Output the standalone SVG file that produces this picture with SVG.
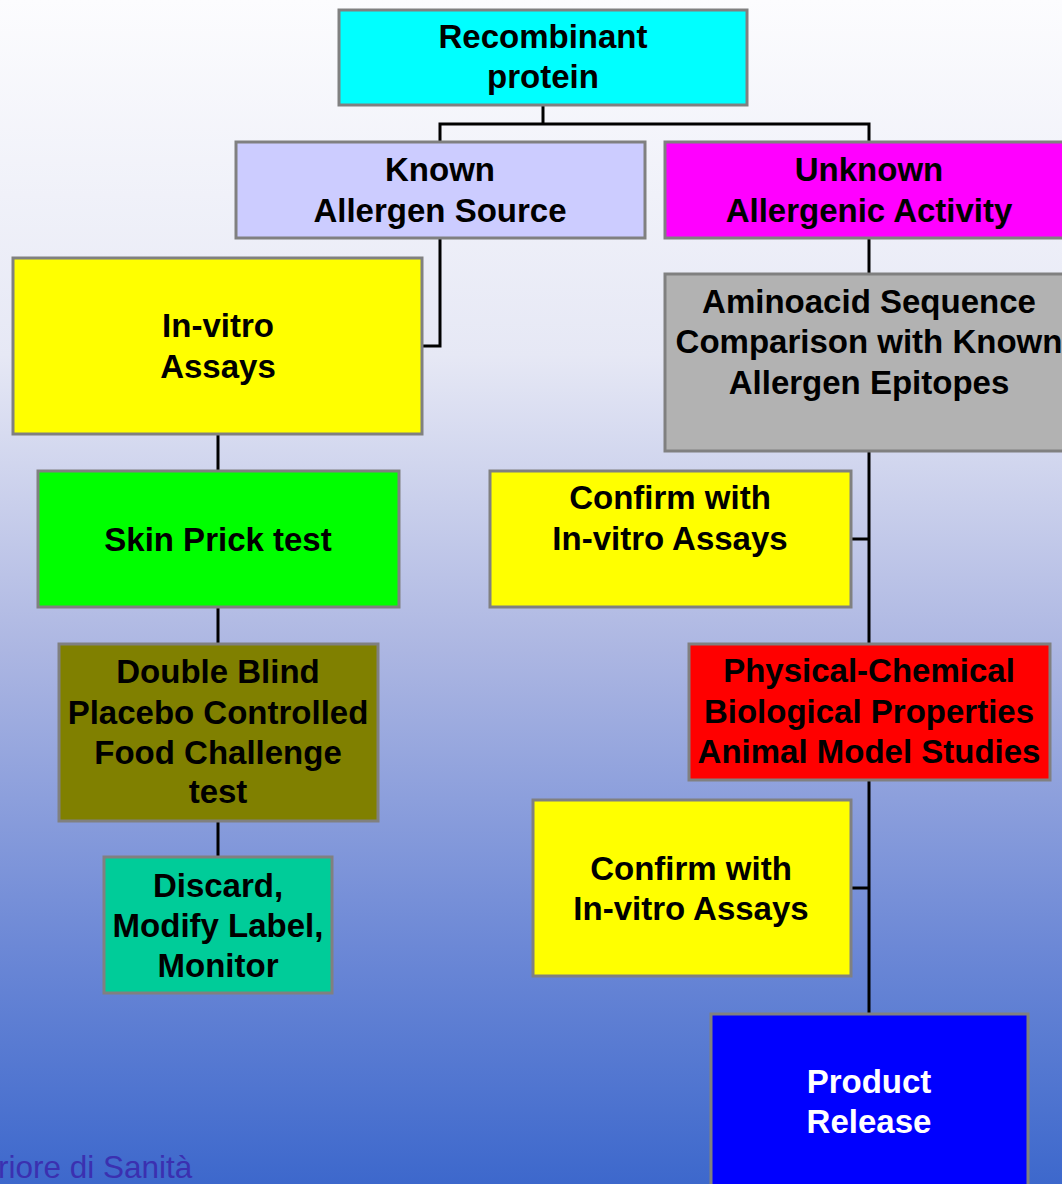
<svg xmlns="http://www.w3.org/2000/svg" width="1062" height="1184" viewBox="0 0 1062 1184">
<defs>
<linearGradient id="bg" x1="0" y1="0" x2="0" y2="1">
<stop offset="0" stop-color="#fcfcfe"/>
<stop offset="0.3" stop-color="#e6e8f5"/>
<stop offset="0.55" stop-color="#acb6e2"/>
<stop offset="0.8" stop-color="#6c88d6"/>
<stop offset="1" stop-color="#3d68cc"/>
</linearGradient>
</defs>
<style>
.box{stroke:#808080;stroke-width:3}
.t{font-family:"Liberation Sans",Arial,sans-serif;font-weight:bold;font-size:33px;fill:#000;text-anchor:middle}
.w{fill:#fff}
.c{fill:none;stroke:#000;stroke-width:3}
</style>
<rect x="0" y="0" width="1062" height="1184" fill="url(#bg)"/>
<g id="connectors">
<polyline class="c" points="543,106 543,124"/>
<polyline class="c" points="440,142 440,124 869,124 869,142"/>
<polyline class="c" points="440,238 440,346 422,346"/>
<polyline class="c" points="869,238 869,274"/>
<polyline class="c" points="218,434 218,471"/>
<polyline class="c" points="218,607 218,644"/>
<polyline class="c" points="218,821 218,857"/>
<polyline class="c" points="869,451 869,644"/>
<polyline class="c" points="851,539 869,539"/>
<polyline class="c" points="869,780 869,1014"/>
<polyline class="c" points="851,888 869,888"/>
</g>
<g id="recombinant">
<rect class="box" x="339" y="10" width="408" height="95" fill="#00ffff"/>
<text class="t" x="543" y="48">Recombinant</text>
<text class="t" x="543" y="88">protein</text>
</g>
<g id="known">
<rect class="box" x="236" y="142" width="409" height="96" fill="#ccccff"/>
<text class="t" x="440" y="181">Known</text>
<text class="t" x="440" y="222">Allergen Source</text>
</g>
<g id="unknown">
<rect class="box" x="665" y="142" width="400" height="96" fill="#ff00ff"/>
<text class="t" x="869" y="181">Unknown</text>
<text class="t" x="869" y="222">Allergenic Activity</text>
</g>
<g id="invitro">
<rect class="box" x="13" y="258" width="409" height="176" fill="#ffff00"/>
<text class="t" x="218" y="337">In-vitro</text>
<text class="t" x="218" y="378">Assays</text>
</g>
<g id="aminoacid">
<rect class="box" x="665" y="274" width="400" height="177" fill="#b2b2b2"/>
<text class="t" x="869" y="313">Aminoacid Sequence</text>
<text class="t" x="869" y="353">Comparison with Known</text>
<text class="t" x="869" y="394">Allergen Epitopes</text>
</g>
<g id="skinprick">
<rect class="box" x="38" y="471" width="361" height="136" fill="#00ff00"/>
<text class="t" x="218" y="551">Skin Prick test</text>
</g>
<g id="confirm1">
<rect class="box" x="490" y="471" width="361" height="136" fill="#ffff00"/>
<text class="t" x="670" y="509">Confirm with</text>
<text class="t" x="670" y="550">In-vitro Assays</text>
</g>
<g id="physchem">
<rect class="box" x="689" y="644" width="361" height="136" fill="#ff0000"/>
<text class="t" x="869" y="682">Physical-Chemical</text>
<text class="t" x="869" y="723">Biological Properties</text>
<text class="t" x="869" y="763">Animal Model Studies</text>
</g>
<g id="dbpcfc">
<rect class="box" x="59" y="644" width="319" height="177" fill="#808000"/>
<text class="t" x="218" y="683">Double Blind</text>
<text class="t" x="218" y="724">Placebo Controlled</text>
<text class="t" x="218" y="764">Food Challenge</text>
<text class="t" x="218" y="803">test</text>
</g>
<g id="discard">
<rect class="box" x="104" y="857" width="228" height="136" fill="#00cc99"/>
<text class="t" x="218" y="897">Discard,</text>
<text class="t" x="218" y="937">Modify Label,</text>
<text class="t" x="218" y="977">Monitor</text>
</g>
<g id="confirm2">
<rect class="box" x="533" y="800" width="318" height="176" fill="#ffff00"/>
<text class="t" x="691" y="880">Confirm with</text>
<text class="t" x="691" y="920">In-vitro Assays</text>
</g>
<g id="release">
<rect class="box" x="711" y="1014" width="317" height="180" fill="#0000ff"/>
<text class="t w" x="869" y="1093">Product</text>
<text class="t w" x="869" y="1133">Release</text>
</g>
<text x="-2" y="1178" font-family="'Liberation Sans',Arial,sans-serif" font-size="31.5" fill="#3b30b0">riore di Sanità</text>
</svg>
